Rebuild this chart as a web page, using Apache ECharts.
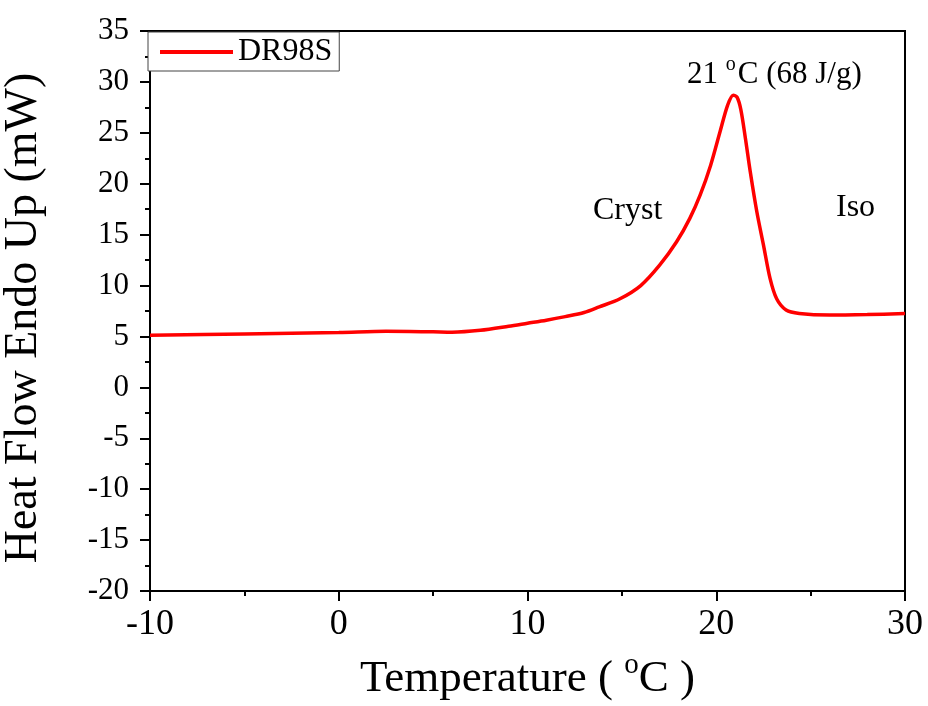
<!DOCTYPE html>
<html>
<head>
<meta charset="utf-8">
<script src="https://cdn.jsdelivr.net/npm/echarts@6/dist/echarts.min.js"></script>
<style>
  html, body { margin: 0; padding: 0; background: #fff; }
  #chart { width: 928px; height: 706px; }
</style>
</head>
<body>
<div id="chart"></div>
<script>
// DSC cooling scan of DR98S: temperature (°C) vs heat flow (mW)
const temperature = [-10, -5, 0, 2.5, 5, 6, 7.5, 9, 10, 11, 12, 13, 13.8, 14.9, 16.0, 17.0, 17.9, 18.6, 19.15, 19.7, 20.2, 20.6, 20.9, 21.1, 21.3, 21.55, 21.8, 22.15, 22.5, 22.85, 23.2, 23.7, 24.4, 26, 28, 30];
const heatFlow    = [5.13, 5.25, 5.38, 5.5, 5.45, 5.42, 5.6, 6.0, 6.3, 6.6, 6.95, 7.35, 7.9, 8.7, 10.0, 12.0, 14.3, 16.6, 18.9, 21.8, 25.1, 27.7, 28.7, 28.5, 27.3, 24.4, 21.2, 17.25, 14.0, 10.7, 8.7, 7.6, 7.26, 7.1, 7.15, 7.25];
const xTicks = [-10, 0, 10, 20, 30];
const yTicks = [-20, -15, -10, -5, 0, 5, 10, 15, 20, 25, 30, 35];
const seriesName = 'DR98S';
const peakLabel = ['21 ', 'o', 'C (68 J/g)'];
const regionLabels = ['Cryst', 'Iso'];

const serif = '"Liberation Serif", "Times New Roman", serif';
const chart = echarts.init(document.getElementById('chart'));

const points = temperature.map((t, i) => [t, heatFlow[i]]);

chart.setOption({
  animation: false,
  backgroundColor: '#fff',
  grid: { left: 150, right: 23, top: 31, bottom: 115, outerBoundsMode: 'none', containLabel: false,
    show: true, borderColor: '#000', borderWidth: 2, backgroundColor: 'transparent' },
  legend: {
    left: 148, top: 32,
    data: [{ name: seriesName, icon: 'rect' }],
    itemWidth: 73, itemHeight: 4,
    itemGap: 6,
    padding: [4, 7, 3, 12],
    borderColor: '#444', borderWidth: 1, borderRadius: 0,
    backgroundColor: '#fff',
    textStyle: { fontFamily: serif, fontSize: 32, color: '#000', padding: [0, 0, 0, 0] }
  },
  xAxis: {
    type: 'value',
    min: xTicks[0], max: xTicks[xTicks.length - 1], interval: 10,
    name: 'Temperature ( {sup|o}C )',
    nameLocation: 'middle', nameGap: 60,
    nameTextStyle: { fontFamily: serif, fontSize: 45, color: '#000',
      rich: { sup: { fontFamily: serif, fontSize: 29, verticalAlign: 'top', padding: [0, 0, 28, 0], color: '#000' } } },
    axisLine: { show: true, onZero: false, lineStyle: { color: '#000', width: 2 } },
    axisTick: { show: true, inside: false, length: 10, lineStyle: { color: '#000', width: 2 } },
    minorTick: { show: true, splitNumber: 2, length: 5, lineStyle: { color: '#000', width: 2 } },
    splitLine: { show: false },
    axisLabel: { fontFamily: serif, fontSize: 36, color: '#000', margin: 16 }
  },
  yAxis: {
    type: 'value',
    min: yTicks[0], max: yTicks[yTicks.length - 1], interval: 5,
    name: 'Heat Flow Endo Up (mW)',
    nameLocation: 'middle', nameGap: 103,
    nameTextStyle: { fontFamily: serif, fontSize: 46, color: '#000', padding: [0, 14, 0, 0] },
    axisLine: { show: true, onZero: false, lineStyle: { color: '#000', width: 2 } },
    axisTick: { show: true, inside: false, length: 10, lineStyle: { color: '#000', width: 2 } },
    minorTick: { show: true, splitNumber: 2, length: 5, lineStyle: { color: '#000', width: 2 } },
    splitLine: { show: false },
    axisLabel: { fontFamily: serif, fontSize: 31, color: '#000', margin: 21 }
  },
  series: [{
    name: seriesName,
    type: 'line',
    data: points,
    symbol: 'none',
    smooth: 0.3,
    lineStyle: { color: '#ff0000', width: 3.5 },
    itemStyle: { color: '#ff0000' }
  }],
  graphic: [
    {
      type: 'text', left: 687, top: 55,
      style: {
        text: '{n|' + peakLabel[0] + '}{sup|' + peakLabel[1] + '}{n|' + peakLabel[2] + '}',
        rich: {
          n: { fontFamily: serif, fontSize: 31, fill: '#000' },
          sup: { fontFamily: serif, fontSize: 20, fill: '#000', verticalAlign: 'top', padding: [0, 2, 19, 0] }
        }
      }
    },
    { type: 'text', left: 593, top: 195, style: { text: regionLabels[0], fontFamily: serif, fontSize: 32, fill: '#000' } },
    { type: 'text', left: 836, top: 192, style: { text: regionLabels[1], fontFamily: serif, fontSize: 32, fill: '#000' } }
  ]
});
</script>
</body>
</html>
